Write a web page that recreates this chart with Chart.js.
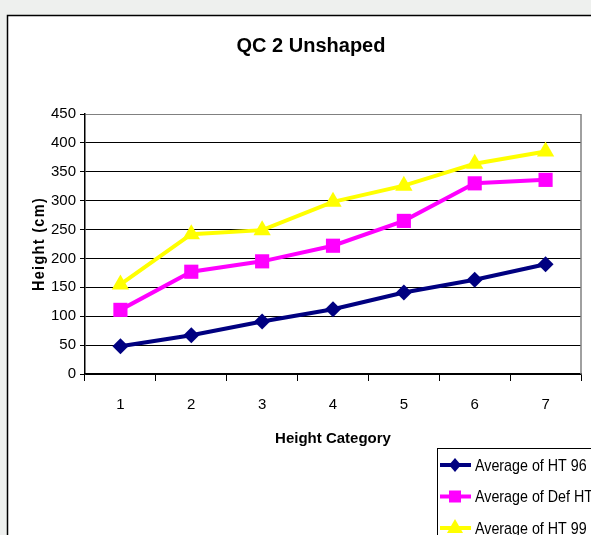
<!DOCTYPE html>
<html>
<head>
<meta charset="utf-8">
<script src="https://cdn.jsdelivr.net/npm/chart.js@4"></script>
<style>
    html, body { margin: 0; padding: 0; background: #eef0ee; overflow: hidden; }
    #wrap { width: 591px; height: 535px; position: relative; }
</style>
</head>
<body>
<div id="wrap"><canvas id="qcChart" width="591" height="535"></canvas></div>
<script>
/* ------------------------------------------------------------
   DATA
------------------------------------------------------------- */
const categories = ["1", "2", "3", "4", "5", "6", "7"];
const avgHT96 = [48, 67, 91, 112, 141, 163, 190];
const avgDefHT = [111, 177, 195, 222, 265, 330, 336];
const avgHT99 = [155, 242, 249, 298, 326, 364, 385];
const seriesNames = ["Average of HT 96", "Average of Def HT", "Average of HT 99"];
const yTicks = { min: 0, max: 450, step: 50 };

const FONT = "'Liberation Sans', Arial, sans-serif";

/* ------------------------------------------------------------
   Frame, y-title and legend (drawn by hand like the old Excel chart)
------------------------------------------------------------- */
const excelFrame = {
    id: "excelFrame",
    beforeDraw(chart) {
        const ctx = chart.ctx;
        ctx.save();
        ctx.fillStyle = "#eef0ee";
        ctx.fillRect(0, 0, chart.width, chart.height);
        ctx.fillStyle = "#ffffff";
        ctx.fillRect(7, 15, chart.width - 7, chart.height - 15);
        ctx.strokeStyle = "#000";
        ctx.lineWidth = 1.5;
        ctx.beginPath();
        ctx.moveTo(7.5, chart.height);
        ctx.lineTo(7.5, 15.5);
        ctx.lineTo(chart.width, 15.5);
        ctx.stroke();
        ctx.restore();
    },
    afterDraw(chart) {
        const ctx = chart.ctx;
        const area = chart.chartArea;
        ctx.save();

        // plot area right edge
        ctx.strokeStyle = "#808080";
        ctx.lineWidth = 1.5;
        ctx.beginPath();
        ctx.moveTo(area.right, area.top);
        ctx.lineTo(area.right, area.bottom);
        ctx.stroke();

        // y axis title, spaced + slightly narrowed letters
        ctx.translate(40, (area.top + area.bottom) / 2);
        ctx.rotate(-Math.PI / 2);
        ctx.scale(0.9, 1);
        ctx.font = "bold 16px " + FONT;
        ctx.letterSpacing = "1.5px";
        ctx.fillStyle = "#000";
        ctx.textAlign = "center";
        ctx.textBaseline = "middle";
        ctx.fillText("Height (cm)", 0, 0);
        ctx.restore();

        // legend box
        ctx.save();
        ctx.fillStyle = "#fff";
        ctx.fillRect(437, 448, 160, 100);
        ctx.strokeStyle = "#000";
        ctx.lineWidth = 1;
        ctx.strokeRect(437.5, 448.5, 170, 100);
        chart.data.datasets.forEach((ds, i) => {
            const y = 465 + i * 31.5;
            ctx.strokeStyle = ds.borderColor;
            ctx.lineWidth = 4;
            ctx.beginPath();
            ctx.moveTo(440, y);
            ctx.lineTo(471, y);
            ctx.stroke();
            ctx.fillStyle = ds.borderColor;
            ctx.beginPath();
            if (ds.pointStyle === "rectRot") {
                ctx.moveTo(455, y - 7);
                ctx.lineTo(461, y);
                ctx.lineTo(455, y + 7);
                ctx.lineTo(449, y);
            } else if (ds.pointStyle === "rect") {
                ctx.rect(449, y - 6, 12, 12);
            } else {
                ctx.moveTo(455, y - 9);
                ctx.lineTo(463, y + 5);
                ctx.lineTo(447, y + 5);
            }
            ctx.closePath();
            ctx.fill();
            ctx.save();
            ctx.translate(475, y + 1);
            ctx.scale(0.84, 1);
            ctx.fillStyle = "#000";
            ctx.font = "17px " + FONT;
            ctx.textBaseline = "middle";
            ctx.fillText(ds.label, 0, 0);
            ctx.restore();
        });
        ctx.restore();
    }
};

/* ------------------------------------------------------------
   CHART
------------------------------------------------------------- */
const qcCanvas = document.querySelector("#qcChart");

new Chart(qcCanvas, {
    type: "line",
    data: {
        labels: categories,
        datasets: [
            {
                label: seriesNames[0],
                data: avgHT96,
                borderColor: "#000080",
                backgroundColor: "#000080",
                borderWidth: 4,
                pointStyle: "rectRot",
                pointRadius: 8,
                pointBorderWidth: 0,
                tension: 0
            },
            {
                label: seriesNames[1],
                data: avgDefHT,
                borderColor: "#ff00ff",
                backgroundColor: "#ff00ff",
                borderWidth: 4,
                pointStyle: "rect",
                pointRadius: 10,
                pointBorderWidth: 0,
                tension: 0
            },
            {
                label: seriesNames[2],
                data: avgHT99,
                borderColor: "#ffff00",
                backgroundColor: "#ffff00",
                borderWidth: 4,
                pointStyle: "triangle",
                pointRadius: 10,
                pointBorderWidth: 0,
                tension: 0
            }
        ]
    },
    options: {
        responsive: false,
        animation: false,
        layout: {
            padding: { top: 0, left: 39, right: 8, bottom: 87 }
        },
        plugins: {
            legend: { display: false },
            tooltip: { enabled: false },
            title: {
                display: true,
                text: "QC 2 Unshaped",
                color: "#000",
                font: { family: FONT, size: 20, weight: "bold" },
                padding: { top: 34, bottom: 56 }
            }
        },
        scales: {
            x: {
                offset: true,
                grid: {
                    offset: true,
                    drawOnChartArea: false,
                    drawTicks: true,
                    tickLength: 7,
                    color: "#000"
                },
                border: { color: "#000", width: 1.5 },
                ticks: {
                    color: "#000",
                    padding: 15,
                    font: { family: FONT, size: 15 }
                },
                title: {
                    display: true,
                    text: "Height Category",
                    color: "#000",
                    font: { family: FONT, size: 15, weight: "bold" },
                    padding: 0
                },
                afterFit(scale) { scale.height = 74; }
            },
            y: {
                min: yTicks.min,
                max: yTicks.max,
                grid: {
                    color: ctx => (ctx.tick && ctx.tick.value === yTicks.max ? "#808080" : "#000"),
                    lineWidth: 1,
                    tickLength: 5,
                    tickColor: "#000"
                },
                border: { color: "#000", width: 1.5 },
                ticks: {
                    stepSize: yTicks.step,
                    color: "#000",
                    padding: 4,
                    font: { family: FONT, size: 15 }
                },
                afterFit(scale) { scale.width = 46; }
            }
        }
    },
    plugins: [excelFrame]
});
</script>
</body>
</html>
